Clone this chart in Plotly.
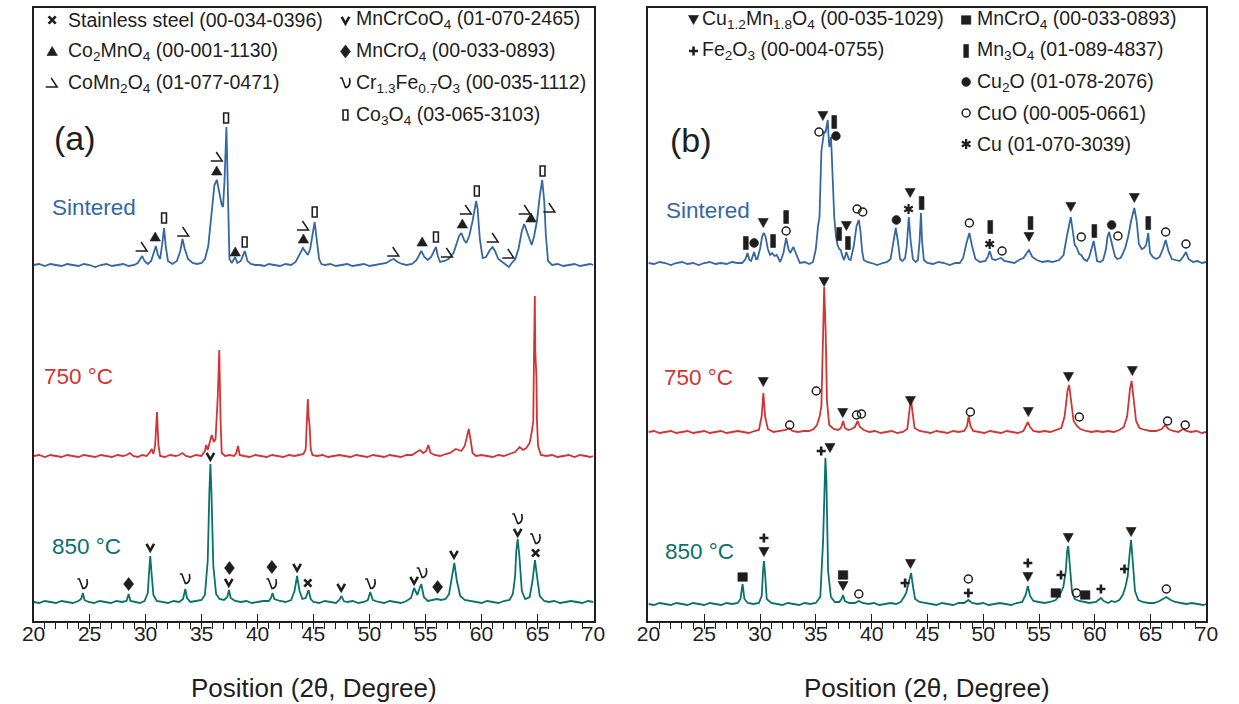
import plotly.graph_objects as go

# ------------------------------------------------------------------
# DATA (2-theta in degrees, stacked intensity in arbitrary units)
# ------------------------------------------------------------------
a_sintered = [(20.0,356),(20.5,357),(21.0,355),(21.5,357),(22.0,356),(22.5,355),(23.0,357),(23.5,356),(24.0,355),(24.5,357),(25.0,356),(25.5,354),(26.0,356),(26.5,357),(27.0,355),(27.5,356),(28.0,357),(28.5,355),(29.0,356),(29.3,358),(29.5,362),(29.7,365),(29.9,360),(30.2,357),(30.5,360),(30.75,368),(30.92,375),(31.1,366),(31.3,362),(31.5,378),(31.65,393),(31.8,375),(32.0,360),(32.4,357),(32.8,360),(33.1,370),(33.3,382),(33.5,372),(33.8,362),(34.2,358),(34.6,357),(35.0,358),(35.3,362),(35.6,375),(35.9,410),(36.15,436),(36.37,441),(36.6,428),(36.8,416),(36.92,414),(37.05,440),(37.22,494),(37.35,440),(37.49,362),(37.7,358),(38.0,364),(38.2,358),(38.5,360),(38.86,370),(39.1,360),(39.4,357),(39.8,356),(40.2,356),(40.6,355),(41.0,357),(41.5,356),(42.0,355),(42.5,357),(43.0,356),(43.4,359),(43.7,366),(44.05,373),(44.3,369),(44.49,366),(44.7,372),(44.9,388),(45.1,399),(45.3,380),(45.5,362),(45.7,357),(46.0,356),(46.5,357),(47.0,355),(47.5,356),(48.0,357),(48.5,355),(49.0,356),(49.5,357),(50.0,355),(50.5,356),(51.0,357),(51.5,358),(51.9,361),(52.16,362),(52.5,359),(52.9,357),(53.3,356),(53.8,357),(54.2,361),(54.62,370),(54.9,364),(55.2,361),(55.5,364),(55.75,370),(55.93,374),(56.1,365),(56.3,359),(56.7,360),(57.04,362),(57.5,368),(57.8,378),(58.0,385),(58.2,388),(58.45,381),(58.64,378),(58.9,385),(59.2,400),(59.38,412),(59.52,420),(59.65,412),(59.85,382),(60.1,363),(60.4,364),(60.7,370),(60.98,374),(61.2,370),(61.5,362),(61.86,359),(62.2,356),(62.44,354),(62.7,358),(63.02,362),(63.3,372),(63.6,390),(63.81,397),(64.0,391),(64.25,381),(64.48,376),(64.7,385),(64.95,400),(65.2,425),(65.42,441),(65.6,420),(65.75,385),(65.94,360),(66.3,356),(66.8,357),(67.3,355),(67.8,356),(68.3,357),(68.8,355),(69.3,356),(69.7,357),(70.0,356)]

a_750 = [(20.0,165),(20.5,166),(21.0,164),(21.5,166),(22.0,165),(22.5,164),(23.0,166),(23.5,165),(24.0,164),(24.5,166),(25.0,165),(25.5,164),(26.0,166),(26.5,165),(27.0,164),(27.5,166),(28.0,165),(28.3,166),(28.6,168),(28.9,165),(29.3,164),(29.7,166),(30.1,165),(30.4,169),(30.55,172),(30.7,167),(30.85,175),(31.02,209),(31.15,176),(31.3,165),(31.7,164),(32.2,166),(32.7,165),(33.0,166),(33.3,168),(33.6,165),(34.0,164),(34.5,166),(35.0,165),(35.3,170),(35.41,176),(35.55,171),(35.75,181),(35.91,186),(36.1,179),(36.25,182),(36.45,225),(36.58,271),(36.7,200),(36.8,168),(37.1,165),(37.5,166),(37.9,165),(38.1,168),(38.26,175),(38.4,166),(38.8,165),(39.3,164),(39.8,166),(40.3,165),(40.8,164),(41.3,166),(41.8,165),(42.3,164),(42.8,166),(43.3,165),(43.7,166),(44.1,167),(44.3,172),(44.42,200),(44.49,222),(44.56,205),(44.65,195),(44.75,172),(44.9,166),(45.3,165),(45.8,166),(46.3,164),(46.8,165),(47.3,166),(47.8,165),(48.3,164),(48.8,166),(49.3,165),(49.8,164),(50.3,166),(50.8,165),(51.3,164),(51.8,166),(52.3,165),(52.8,164),(53.3,166),(53.8,166),(54.2,169),(54.5,171),(54.8,168),(55.05,170),(55.25,176),(55.45,168),(55.8,166),(56.3,165),(56.8,167),(57.2,168),(57.7,172),(58.2,170),(58.5,175),(58.7,185),(58.86,192),(59.0,183),(59.2,168),(59.5,165),(60.0,166),(60.5,165),(61.0,164),(61.5,166),(62.0,165),(62.5,167),(63.0,169),(63.4,174),(63.7,171),(64.0,173),(64.3,178),(64.5,190),(64.62,200),(64.7,280),(64.76,325),(64.8,270),(64.86,250),(64.9,245),(64.95,200),(65.05,175),(65.3,166),(65.8,165),(66.3,166),(66.8,164),(67.3,165),(67.8,166),(68.3,164),(68.8,166),(69.3,165),(69.7,164),(70.0,165)]

a_850 = [(20.0,19),(20.5,18),(21.0,20),(21.5,19),(22.0,18),(22.5,20),(23.0,19),(23.5,18),(24.0,20),(24.25,22),(24.4,28),(24.55,21),(24.9,19),(25.4,18),(25.9,20),(26.4,19),(26.9,18),(27.4,20),(27.9,19),(28.3,20),(28.49,27),(28.65,20),(29.0,19),(29.5,18),(29.9,20),(30.2,28),(30.32,50),(30.42,65),(30.52,50),(30.7,26),(31.0,20),(31.5,19),(32.0,18),(32.5,20),(33.0,19),(33.35,22),(33.55,32),(33.7,23),(34.0,19),(34.5,20),(35.0,21),(35.3,26),(35.55,60),(35.7,130),(35.79,157),(35.88,130),(36.05,55),(36.3,27),(36.6,22),(37.0,21),(37.3,24),(37.45,31),(37.6,23),(38.0,20),(38.5,19),(39.0,20),(39.5,18),(40.0,19),(40.5,20),(41.0,20),(41.2,23),(41.34,28),(41.5,22),(42.0,20),(42.5,19),(43.0,21),(43.3,30),(43.53,45),(43.75,30),(44.0,22),(44.3,23),(44.55,31),(44.75,22),(45.0,19),(45.5,18),(46.0,20),(46.5,19),(47.0,18),(47.3,21),(47.5,25),(47.7,20),(48.0,19),(48.5,20),(49.0,18),(49.5,19),(49.85,21),(50.06,29),(50.3,21),(50.8,19),(51.3,18),(51.8,20),(52.3,19),(52.8,18),(53.3,20),(53.7,23),(53.98,33),(54.15,28),(54.27,26),(54.45,32),(54.62,37),(54.85,24),(55.2,20),(55.6,21),(56.02,22),(56.4,21),(56.8,22),(57.1,27),(57.35,42),(57.57,58),(57.8,40),(58.1,25),(58.5,21),(59.0,20),(59.5,19),(60.0,18),(60.5,20),(61.0,19),(61.5,18),(62.0,20),(62.5,21),(62.8,27),(63.0,45),(63.1,70),(63.23,82),(63.38,65),(63.6,30),(63.9,22),(64.3,24),(64.55,40),(64.77,61),(64.95,45),(65.2,25),(65.6,20),(66.0,19),(66.5,20),(67.0,18),(67.5,19),(68.0,20),(68.5,19),(69.0,18),(69.5,20),(70.0,19)]

b_sintered = [(20.0,358),(20.5,357),(21.0,359),(21.5,358),(22.0,356),(22.5,358),(23.0,359),(23.5,357),(24.0,358),(24.5,356),(25.0,358),(25.5,359),(26.0,357),(26.5,358),(27.0,357),(27.5,359),(28.0,358),(28.4,358),(28.7,362),(28.88,368),(29.05,361),(29.2,360),(29.47,369),(29.65,362),(29.76,362),(30.0,372),(30.2,385),(30.35,388),(30.5,384),(30.7,372),(30.9,366),(31.08,368),(31.3,365),(31.5,366),(31.81,359),(32.1,368),(32.34,383),(32.55,372),(32.7,368),(32.99,374),(33.2,368),(33.57,358),(34.0,359),(34.4,357),(34.75,359),(35.0,372),(35.2,395),(35.33,404),(35.5,470),(35.63,484),(35.75,490),(35.86,488),(36.0,497),(36.07,501),(36.14,485),(36.21,474),(36.3,480),(36.36,484),(36.45,460),(36.65,404),(36.8,385),(36.95,376),(37.1,372),(37.24,371),(37.4,364),(37.53,361),(37.74,369),(37.95,362),(38.12,361),(38.4,375),(38.65,395),(38.85,401),(39.0,390),(39.15,370),(39.29,361),(39.6,359),(40.0,358),(40.5,356),(41.0,358),(41.4,359),(41.7,362),(41.95,380),(42.16,393),(42.35,380),(42.55,362),(42.75,360),(43.0,363),(43.15,375),(43.33,404),(43.5,380),(43.7,362),(43.95,359),(44.15,361),(44.3,380),(44.42,408),(44.52,380),(44.68,361),(45.0,358),(45.5,357),(46.0,359),(46.5,358),(47.0,356),(47.5,358),(47.9,358),(48.2,363),(48.5,378),(48.76,388),(49.0,375),(49.3,362),(49.7,359),(50.2,360),(50.4,364),(50.58,370),(50.8,362),(51.1,361),(51.3,362),(51.6,363),(51.9,360),(52.3,359),(52.8,358),(53.2,361),(53.6,363),(54.1,371),(54.4,364),(54.8,361),(55.3,359),(55.8,360),(56.2,359),(56.8,361),(57.2,366),(57.5,385),(57.7,398),(57.85,404),(58.0,392),(58.2,376),(58.35,374),(58.6,367),(58.79,366),(59.0,362),(59.3,360),(59.5,364),(59.75,374),(59.9,380),(60.05,370),(60.2,360),(60.5,359),(60.75,361),(61.0,372),(61.15,385),(61.28,389),(61.45,380),(61.6,374),(61.8,365),(62.0,362),(62.3,363),(62.5,367),(62.75,374),(63.0,385),(63.25,400),(63.54,413),(63.75,400),(63.95,377),(64.2,372),(64.4,373),(64.6,376),(64.79,388),(64.95,368),(65.2,364),(65.5,362),(65.8,364),(66.1,372),(66.35,381),(66.6,370),(66.9,362),(67.3,361),(67.6,360),(67.9,364),(68.17,369),(68.4,362),(68.8,359),(69.2,360),(69.6,358),(70.0,359)]

b_750 = [(20.0,189),(20.5,190),(21.0,188),(21.5,189),(22.0,190),(22.5,188),(23.0,189),(23.5,190),(24.0,188),(24.5,189),(25.0,190),(25.5,188),(26.0,189),(26.5,190),(27.0,188),(27.5,189),(28.0,190),(28.5,189),(29.0,188),(29.5,190),(29.9,191),(30.15,205),(30.3,228),(30.45,205),(30.7,192),(31.2,189),(31.8,190),(32.3,191),(32.6,193),(32.9,190),(33.4,189),(33.9,190),(34.4,190),(34.8,192),(35.1,196),(35.35,205),(35.5,215),(35.62,290),(35.75,334),(35.88,290),(36.0,220),(36.2,196),(36.6,192),(37.0,191),(37.25,193),(37.45,200),(37.6,193),(37.9,191),(38.2,192),(38.5,194),(38.75,200),(38.95,194),(39.3,191),(39.8,189),(40.3,190),(40.8,188),(41.3,189),(41.8,190),(42.3,188),(42.8,189),(43.2,192),(43.4,210),(43.52,223),(43.65,210),(43.85,193),(44.3,190),(44.8,189),(45.3,188),(45.8,190),(46.3,189),(46.8,188),(47.3,190),(47.8,189),(48.3,190),(48.55,195),(48.7,205),(48.85,195),(49.1,190),(49.6,189),(50.1,188),(50.6,190),(51.1,189),(51.6,188),(52.1,190),(52.6,189),(53.1,188),(53.6,190),(53.85,195),(54.0,199),(54.2,194),(54.5,190),(55.0,189),(55.5,190),(56.0,189),(56.5,191),(57.0,193),(57.3,205),(57.55,230),(57.7,236),(57.85,222),(58.1,200),(58.4,195),(58.7,192),(59.2,190),(59.7,189),(60.2,190),(60.7,189),(61.2,190),(61.7,189),(62.2,191),(62.6,194),(62.9,205),(63.15,232),(63.3,240),(63.45,225),(63.7,200),(64.0,193),(64.5,191),(65.0,190),(65.5,190),(66.0,192),(66.3,196),(66.6,192),(67.0,190),(67.5,189),(67.9,192),(68.2,190),(68.6,189),(69.1,190),(69.6,188),(70.0,189)]

b_850 = [(20.0,17),(20.5,16),(21.0,18),(21.5,17),(22.0,16),(22.5,18),(23.0,17),(23.5,16),(24.0,18),(24.5,17),(25.0,16),(25.5,18),(26.0,17),(26.5,16),(27.0,18),(27.5,17),(28.0,18),(28.25,22),(28.44,37),(28.6,22),(28.9,18),(29.4,17),(29.9,18),(30.15,25),(30.27,50),(30.35,60),(30.45,48),(30.6,22),(31.0,18),(31.5,17),(32.0,16),(32.5,18),(33.0,17),(33.5,16),(34.0,18),(34.5,17),(35.0,18),(35.4,24),(35.65,80),(35.78,150),(35.86,163),(35.95,140),(36.1,50),(36.35,24),(36.7,19),(37.1,19),(37.3,22),(37.44,26),(37.6,20),(38.0,18),(38.5,18),(38.85,20),(39.2,18),(39.7,17),(40.2,18),(40.7,16),(41.2,17),(41.7,18),(42.2,17),(42.6,19),(42.9,24),(43.1,28),(43.35,40),(43.54,48),(43.7,35),(43.9,22),(44.3,19),(44.8,18),(45.3,17),(45.8,16),(46.3,18),(46.8,17),(47.3,16),(47.8,18),(48.3,18),(48.67,21),(49.0,18),(49.5,17),(50.0,18),(50.5,16),(51.0,17),(51.5,18),(52.0,17),(52.5,16),(53.0,18),(53.5,19),(53.8,26),(54.0,35),(54.2,25),(54.5,20),(55.0,19),(55.5,18),(56.0,19),(56.5,21),(56.9,27),(57.18,34),(57.4,50),(57.52,70),(57.62,75),(57.75,55),(57.95,30),(58.2,22),(58.6,20),(59.1,19),(59.5,18),(60.1,19),(60.35,21),(60.55,23),(60.8,20),(61.2,18),(61.5,20),(61.8,19),(62.2,21),(62.5,26),(62.74,34),(62.95,45),(63.1,65),(63.25,81),(63.4,60),(63.6,30),(63.9,21),(64.3,19),(64.8,18),(65.3,18),(65.8,20),(66.1,22),(66.41,24),(66.8,21),(67.2,19),(67.7,18),(68.2,17),(68.7,18),(69.2,17),(69.7,16),(70.0,17)]

# phase markers above the peaks: (phase, 2theta, height)
a_marks = [
    ("CoMn2O4",29.69,374),("Co2MnO4",30.86,384),("Co3O4",31.65,403),("CoMn2O4",33.4,389),
    ("Co2MnO4",36.35,450),("CoMn2O4",36.4,464),("Co3O4",37.19,503),("Co2MnO4",38.01,369),
    ("Co3O4",38.85,379),("Co2MnO4",44.1,382),("CoMn2O4",44.1,395),("Co3O4",45.1,409),
    ("CoMn2O4",52.16,369),("Co2MnO4",54.7,379),("Co3O4",55.93,384),("CoMn2O4",56.95,368),
    ("Co2MnO4",58.29,397),("CoMn2O4",58.64,411),("Co3O4",59.58,430),("CoMn2O4",61.04,383),
    ("CoMn2O4",62.44,367),("CoMn2O4",63.9,411),("Co2MnO4",64.42,403),("Co3O4",65.45,450),
    ("CoMn2O4",66.1,413),
    ("CrFeO",24.4,37),("MnCrO4a",28.49,37),("MnCrCoO4",30.42,74),("CrFeO",33.55,42),
    ("MnCrCoO4",35.79,165),("MnCrO4a",37.49,53),("MnCrCoO4",37.43,39),("MnCrO4a",41.28,54),
    ("CrFeO",41.28,37),("MnCrCoO4",43.53,54),("Steel",44.49,38),("MnCrCoO4",47.47,34),
    ("CrFeO",50.1,37),("MnCrCoO4",53.98,41),("CrFeO",54.7,48),("MnCrO4a",56.08,34),
    ("MnCrCoO4",57.54,67),("CrFeO",63.23,102),("MnCrCoO4",63.23,89),("CrFeO",64.83,82),
    ("Steel",64.83,68),
]
b_marks = [
    ("Mn3O4",28.73,378),("Cu2O",29.47,378),("CuMn",30.29,398),("Mn3O4",31.17,380),
    ("Mn3O4",32.34,404),("CuO",32.34,390),("CuMn",35.63,505),("CuO",35.28,489),
    ("Mn3O4",36.65,499),("Cu2O",36.8,485),("Mn3O4",37.09,387),("CuMn",37.74,395),
    ("Mn3O4",37.88,378),("CuO",38.7,412),("CuO",39.2,409),("Cu2O",42.22,401),
    ("CuMn",43.45,428),("Cu",43.31,412),("Mn3O4",44.48,418),("CuO",48.76,398),
    ("Mn3O4",50.63,394),("Cu",50.58,377),("CuO",51.69,370),("Mn3O4",54.24,398),
    ("CuMn",54.1,384),("CuMn",57.85,414),("CuO",58.79,384),("Mn3O4",59.96,390),
    ("Cu2O",61.51,396),("CuO",62.07,385),("CuMn",63.54,423),("Mn3O4",64.79,398),
    ("CuO",66.35,389),("CuO",68.17,377),
    ("CuMn",30.29,239),("CuO",32.66,196),("CuO",35.04,230),("CuMn",35.74,339),
    ("CuMn",37.41,208),("CuO",38.65,206),("CuO",39.09,207),("CuMn",43.48,220),
    ("CuO",48.85,209),("CuMn",54.04,209),("CuMn",57.64,244),("CuO",58.61,204),
    ("CuMn",63.36,250),("CuO",66.52,200),("CuO",68.1,196),
    ("MnCrO4b",28.44,44),("Fe2O3",30.35,83),("CuMn",30.35,69),("Fe2O3",35.48,170),
    ("CuMn",36.27,173),("MnCrO4b",37.44,46),("CuMn",37.44,35),("CuO",38.85,27),
    ("Fe2O3",43.0,38),("CuMn",43.48,57),("CuO",48.67,42),("Fe2O3",48.67,28),
    ("Fe2O3",54.0,58),("CuMn",54.0,44),("MnCrO4b",56.5,28),("Fe2O3",56.97,46),
    ("CuMn",57.62,83),("CuO",58.35,28),("MnCrO4b",59.14,26),("Fe2O3",60.55,32),
    ("Fe2O3",62.66,52),("CuMn",63.25,89),("CuO",66.41,32),
]

# legend texts
a_legend = [
    ("Steel", "Stainless steel (00-034-0396)", 0, 0),
    ("Co2MnO4", "Co<sub>2</sub>MnO<sub>4</sub> (00-001-1130)", 0, 1),
    ("CoMn2O4", "CoMn<sub>2</sub>O<sub>4</sub> (01-077-0471)", 0, 2),
    ("MnCrCoO4", "MnCrCoO<sub>4</sub> (01-070-2465)", 1, 0),
    ("MnCrO4a", "MnCrO<sub>4</sub> (00-033-0893)", 1, 1),
    ("CrFeO", "Cr<sub>1.3</sub>Fe<sub>0.7</sub>O<sub>3</sub> (00-035-1112)", 1, 2),
    ("Co3O4", "Co<sub>3</sub>O<sub>4</sub> (03-065-3103)", 1, 3),
]
b_legend = [
    ("CuMn", "Cu<sub>1.2</sub>Mn<sub>1.8</sub>O<sub>4</sub> (00-035-1029)", 0, 0),
    ("Fe2O3", "Fe<sub>2</sub>O<sub>3</sub> (00-004-0755)", 0, 1),
    ("MnCrO4b", "MnCrO<sub>4</sub> (00-033-0893)", 1, 0),
    ("Mn3O4", "Mn<sub>3</sub>O<sub>4</sub> (01-089-4837)", 1, 1),
    ("Cu2O", "Cu<sub>2</sub>O (01-078-2076)", 1, 2),
    ("CuO", "CuO (00-005-0661)", 1, 3),
    ("Cu", "Cu (01-070-3039)", 1, 4),
]
sample_labels = ["Sintered", "750 °C", "850 °C"]

# ------------------------------------------------------------------
# STYLE
# ------------------------------------------------------------------
INK = "#1e1e1e"
C_BLUE, C_RED, C_TEAL = "#3567a3", "#d23434", "#0a716c"
FONT = "Liberation Sans, Arial, Helvetica, sans-serif"

# glyph shapes in pixel offsets around the anchor (y up)
GLYPH = {
    "Co2MnO4": dict(path="M -5.2 -4 L 5.2 -4 L 0 5 Z", fill=True, w=0.6),
    "CuMn":    dict(path="M -5 4.5 L 5 4.5 L 0 -4.5 Z", fill=True, w=0.6),
    "MnCrO4a": dict(path="M 0 6.5 L 5 0 L 0 -6.5 L -5 0 Z", fill=True, w=0.6),
    "MnCrO4b": dict(path="M -4.7 -4.3 L 4.7 -4.3 L 4.7 4.3 L -4.7 4.3 Z", fill=True, w=0.6),
    "Mn3O4":   dict(path="M -2.4 -6.5 L 2.4 -6.5 L 2.4 6.5 L -2.4 6.5 Z", fill=True, w=0.6),
    "Co3O4":   dict(path="M -2.4 -5 L 2.4 -5 L 2.4 5 L -2.4 5 Z", fill=False, w=1.6),
    "Fe2O3":   dict(path="M -4.5 0 L 4.5 0 M 0 -4.5 L 0 4.5", fill=False, w=2.6),
    "Cu":      dict(path="M 0 -5 L 0 5 M -4.3 -2.5 L 4.3 2.5 M -4.3 2.5 L 4.3 -2.5", fill=False, w=2.2),
    "Steel":   dict(path="M -3.6 -3.6 L 3.6 3.6 M -3.6 3.6 L 3.6 -3.6", fill=False, w=2.7),
    "MnCrCoO4":dict(path="M -3.8 3.2 L 0 -3.6 L 3.8 3.2", fill=False, w=2.6),
    "CoMn2O4": dict(path="M -6.5 -4 L 5 -4 L -1 5", fill=False, w=1.5),
    "CrFeO":   dict(path="M -5.5 5 L -3.5 5 L 0 -4.5 C 3.5 -4.5 5.5 0 4 5", fill=False, w=1.6),
    "Cu2O":    dict(circle=4.4, fill=True, w=0.6),
    "CuO":     dict(circle=4.0, fill=False, w=1.5),
}


def glyph(kind, x, y, xr, yr):
    g = GLYPH[kind]
    base = dict(xref=xr, yref=yr, xsizemode="pixel", ysizemode="pixel",
                xanchor=x, yanchor=y, layer="above",
                fillcolor=INK if g["fill"] else "rgba(0,0,0,0)",
                line=dict(color=INK, width=g["w"]))
    if "circle" in g:
        r = g["circle"]
        return dict(type="circle", x0=-r, x1=r, y0=-r, y1=r, **base)
    return dict(type="path", path=g["path"], **base)


fig = go.Figure()
panels = [
    ("x", "y", [a_sintered, a_750, a_850]),
    ("x2", "y2", [b_sintered, b_750, b_850]),
]
for xr, yr, series in panels:
    for data, col in zip(series, [C_BLUE, C_RED, C_TEAL]):
        xs, ys = zip(*data)
        fig.add_trace(go.Scatter(x=xs, y=ys, mode="lines", xaxis=xr, yaxis=yr,
                                 line=dict(color=col, width=1.8), showlegend=False,
                                 hoverinfo="skip"))

shapes = []
for kind, x, y in a_marks:
    shapes.append(glyph(kind, x, y, "x", "y"))
for kind, x, y in b_marks:
    shapes.append(glyph(kind, x, y, "x2", "y2"))

annotations = []
# legends (positions in data units of each panel)
LEG = {
    "x": dict(gx=[21.66, 47.85], tx=[22.9, 48.65], rows=[601, 569.5, 538, 506]),
    "x2": dict(gx=[24.04, 48.47], tx=[24.6, 49.3], rows=[601, 570, 539, 508, 477]),
}
for xr, yr, leg in [("x", "y", a_legend), ("x2", "y2", b_legend)]:
    L = LEG[xr]
    for kind, txt, c, r in leg:
        shapes.append(glyph(kind, L["gx"][c], L["rows"][r], xr, yr))
        annotations.append(dict(x=L["tx"][c], y=L["rows"][r], xref=xr, yref=yr,
                                text=txt, showarrow=False, xanchor="left", yanchor="middle",
                                font=dict(family=FONT, size=19.5, color=INK)))

# panel letters and sample labels
for xr, yr, letter, lx, ly, labpos in [
    ("x", "y", "(a)", 23.68, 483, [(25.43, 414), (24.03, 245), (24.73, 75)]),
    ("x2", "y2", "(b)", 23.78, 481, [(25.37, 411), (24.49, 244), (24.57, 70)]),
]:
    annotations.append(dict(x=lx, y=ly, xref=xr, yref=yr, text=letter, showarrow=False,
                            font=dict(family=FONT, size=34, color=INK)))
    for (px, py), txt, col in zip(labpos, sample_labels, [C_BLUE, C_RED, C_TEAL]):
        annotations.append(dict(x=px, y=py, xref=xr, yref=yr, text=txt, showarrow=False,
                                font=dict(family=FONT, size=22.5, color=col)))

# axis titles
for xc in [307.5 / 1239, 933.5 / 1239]:
    annotations.append(dict(x=xc, y=(704 - 688) / 704, xref="paper", yref="paper",
                            text="Position (2θ, Degree)", showarrow=False,
                            xanchor="center", yanchor="middle",
                            font=dict(family=FONT, size=26, color=INK)))

xax = dict(range=[20, 70], tick0=20, dtick=5, ticks="inside", ticklen=7, tickwidth=1.4,
           tickcolor=INK, showline=True, linewidth=1.6, linecolor=INK, mirror=True,
           showgrid=False, zeroline=False, ticklabelstandoff=-7,
           tickfont=dict(family=FONT, size=21, color=INK),
           minor=dict(dtick=1, ticks="outside", ticklen=6, tickwidth=1.1, tickcolor=INK,
                      showgrid=False))
yax = dict(range=[0, 613], showticklabels=False, ticks="", showline=True, linewidth=1.6,
           linecolor=INK, mirror=True, showgrid=False, zeroline=False)

yd = [(704 - 621) / 704, (704 - 8) / 704]
fig.update_layout(
    width=1239, height=704, margin=dict(l=0, r=0, t=0, b=0),
    paper_bgcolor="white", plot_bgcolor="white",
    xaxis=dict(domain=[22 / 1239, 593 / 1239], anchor="y", **xax),
    xaxis2=dict(domain=[649 / 1239, 1218 / 1239], anchor="y2", **xax),
    yaxis=dict(domain=yd, anchor="x", **yax),
    yaxis2=dict(domain=yd, anchor="x2", **yax),
    shapes=shapes, annotations=annotations, showlegend=False,
)

fig.write_html("out.html", config={"displayModeBar": False},
               post_script="document.body.style.margin='0';")
